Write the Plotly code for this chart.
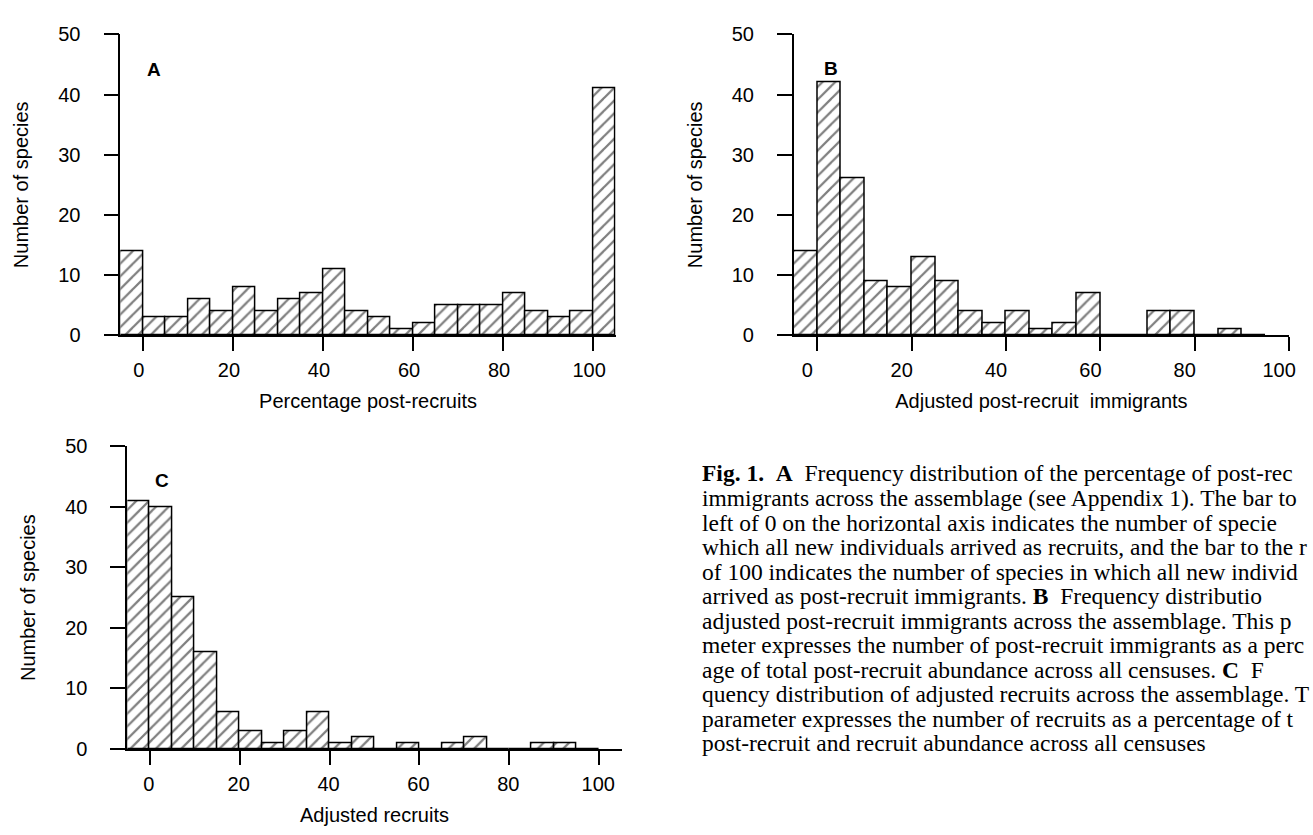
import plotly.graph_objects as go

W, H = 1313, 835

# ---------------- data ----------------
a_bin_left = [-5, 0, 5, 10, 15, 20, 25, 30, 35, 40, 45, 50, 55, 60, 65, 70, 75, 80, 85, 90, 95, 100]
a_counts = [14, 3, 3, 6, 4, 8, 4, 6, 7, 11, 4, 3, 1, 2, 5, 5, 5, 7, 4, 3, 4, 41]

b_bin_left = [-5, 0, 5, 10, 15, 20, 25, 30, 35, 40, 45, 50, 55, 60, 65, 70, 75, 80, 85, 90]
b_counts = [14, 42, 26, 9, 8, 13, 9, 4, 2, 4, 1, 2, 7, 0, 0, 4, 4, 0, 1, 0]

c_bin_left = [-5, 0, 5, 10, 15, 20, 25, 30, 35, 40, 45, 50, 55, 60, 65, 70, 75, 80, 85, 90, 95]
c_counts = [41, 40, 25, 16, 6, 3, 1, 3, 6, 1, 2, 0, 1, 0, 1, 2, 0, 0, 1, 1, 0]

x_ticks = [0, 20, 40, 60, 80, 100]
y_ticks = [0, 10, 20, 30, 40, 50]

x_titles = ["Percentage post-recruits", "Adjusted post-recruit  immigrants", "Adjusted recruits"]
y_title = "Number of species"
panel_letters = ["A", "B", "C"]

# caption as visible in the reference (right side is cut by the page edge)
caption_lines = [
    "<b>Fig. 1.</b>  <b>A</b>  Frequency distribution of the percentage of post-rec",
    "immigrants across the assemblage (see Appendix 1). The bar to",
    "left of 0 on the horizontal axis indicates the number of specie",
    "which all new individuals arrived as recruits, and the bar to the r",
    "of 100 indicates the number of species in which all new individ",
    "arrived as post-recruit immigrants. <b>B</b>  Frequency distributio",
    "adjusted post-recruit immigrants across the assemblage. This p",
    "meter expresses the number of post-recruit immigrants as a perc",
    "age of total post-recruit abundance across all censuses. <b>C</b>  F",
    "quency distribution of adjusted recruits across the assemblage. T",
    "parameter expresses the number of recruits as a percentage of t",
    "post-recruit and recruit abundance across all censuses",
]

# ---------------- layout geometry (pixels) ----------------
SANS = "Liberation Sans, Arial, Helvetica, sans-serif"
SERIF = "Liberation Serif, Times New Roman, serif"
FS = 20

panels = [
    dict(x0=121, x1=619, yt=24, yb=333, xr=[-5, 105], bins=a_bin_left, counts=a_counts, shift=-4),
    dict(x0=798, x1=1296, yt=24, yb=333, xr=[-5, 100], bins=b_bin_left, counts=b_counts, shift=-10),
    dict(x0=128, x1=625, yt=447, yb=758, xr=[-5, 105], bins=c_bin_left, counts=c_counts, shift=-1),
]
letter_pos = [(2.5, 44.2), (3.0, 44.3), (2.7, 44.4)]

fig = go.Figure()
layout = dict(
    width=W, height=H,
    margin=dict(l=0, r=0, t=0, b=0),
    paper_bgcolor="white", plot_bgcolor="white",
    showlegend=False,
    bargap=0,
    font=dict(family=SANS, size=FS, color="black"),
)

shapes = []
annotations = []
for i, p in enumerate(panels):
    n = "" if i == 0 else str(i + 1)
    xa, ya = "x" + n, "y" + n
    fig.add_trace(go.Bar(
        x=p["bins"], y=p["counts"], width=5, offset=0,
        xaxis=xa, yaxis=ya,
        marker=dict(
            color="white",
            line=dict(color="black", width=1.5),
            pattern=dict(shape="/", fgcolor="black", bgcolor="white", size=9, solidity=0.25),
        ),
        hoverinfo="skip",
    ))
    layout["xaxis" + n] = dict(
        domain=[p["x0"] / W, p["x1"] / W], range=p["xr"], anchor=ya,
        showgrid=False, zeroline=False, showline=True, linecolor="black", linewidth=1.7,
        ticks="outside", ticklen=14, tickwidth=1.6, tickcolor="black",
        tickvals=x_ticks, ticktext=[str(v) for v in x_ticks],
        ticklabelstandoff=2, ticklabelshift=p["shift"], ticklabeloverflow="allow",
        tickfont=dict(family=SANS, size=FS, color="black"),
        title=dict(text=x_titles[i], font=dict(family=SANS, size=FS, color="black"), standoff=14),
    )
    layout["yaxis" + n] = dict(
        domain=[1 - p["yb"] / H, 1 - p["yt"] / H], range=[0, 50], anchor=xa,
        showgrid=False, zeroline=False, showline=True, linecolor="black", linewidth=1.7,
        ticks="outside", ticklen=15, tickwidth=1.6, tickcolor="black",
        tickvals=y_ticks, ticktext=[str(v) for v in y_ticks],
        ticklabelstandoff=19,
        tickfont=dict(family=SANS, size=FS, color="black"),
        title=dict(text=y_title, font=dict(family=SANS, size=FS, color="black"), standoff=24),
    )
    # baseline extends left beneath the y-axis ticks
    px_per_unit = (p["x1"] - p["x0"]) / (p["xr"][1] - p["xr"][0])
    shapes.append(dict(type="line", xref=xa, yref=ya, x0=p["xr"][0] - 15 / px_per_unit,
                       x1=p["xr"][0], y0=0, y1=0, line=dict(color="black", width=1.7)))
    lx, ly = letter_pos[i]
    annotations.append(dict(text="<b>%s</b>" % panel_letters[i], xref=xa, yref=ya,
                            x=lx, y=ly, showarrow=False,
                            font=dict(family=SANS, size=19, color="black")))

for k, line in enumerate(caption_lines):
    annotations.append(dict(
        text=line, xref="paper", yref="paper", x=704 / W, y=1 - (475 + 25.2 * k) / H,
        xanchor="left", yanchor="middle", showarrow=False, align="left",
        font=dict(family=SERIF, size=23.5, color="black"),
    ))

layout["shapes"] = shapes
layout["annotations"] = annotations
fig.update_layout(**layout)

fig.write_html(
    "out.html",
    config={"displayModeBar": False},
    post_script="document.body.style.margin='0';document.body.style.overflow='hidden';",
)
